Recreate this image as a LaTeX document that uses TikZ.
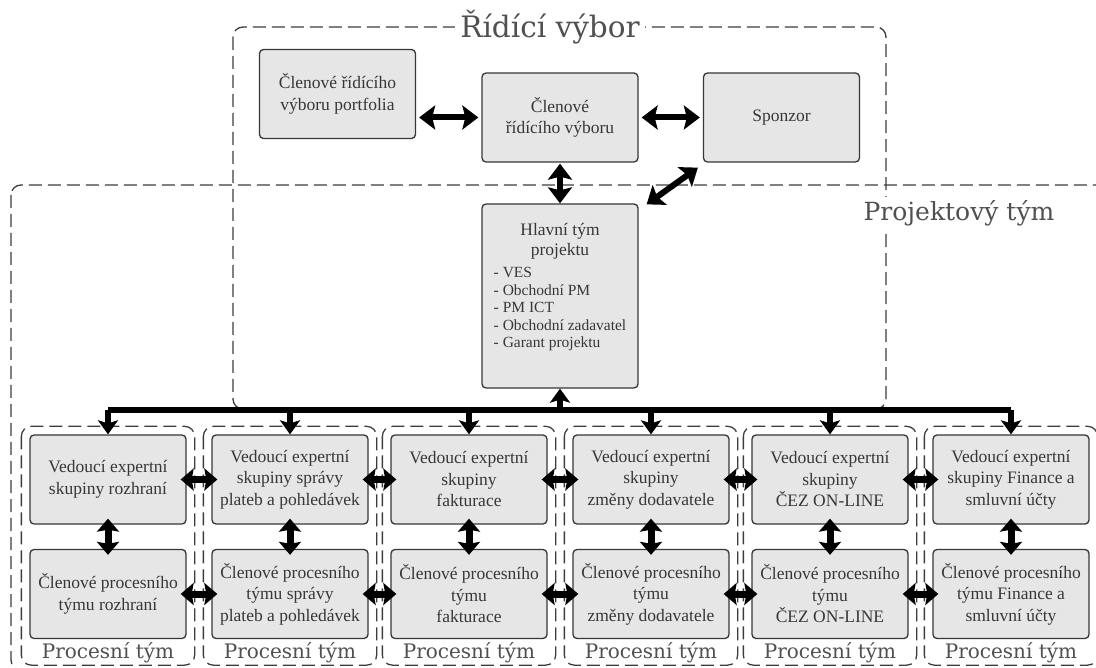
\documentclass[tikz,border=0pt]{standalone}
\usepackage{fontspec}
\setmainfont{Liberation Serif}
\newfontfamily\headfont{DejaVu Serif}
\usetikzlibrary{arrows.meta}
\definecolor{boxfill}{RGB}{230,230,230}
\definecolor{boxline}{RGB}{55,55,55}
\definecolor{boxtext}{RGB}{55,55,55}
\definecolor{dashline}{RGB}{60,60,60}
\definecolor{titlecol}{RGB}{80,80,80}
\tikzset{
  box/.style={draw=boxline, fill=boxfill, line width=1.3pt, rounded corners=4pt,
    minimum width=156pt, minimum height=89pt, align=center, text=boxtext,
    font=\fontsize{17.5}{21.5}\selectfont, inner sep=2pt},
  group/.style={draw=dashline, line width=1.3pt, dash pattern=on 13pt off 6pt, rounded corners=10pt},
  bigarrow/.style={line width=6pt, shorten <=3pt, shorten >=3pt,
    {Stealth[length=16pt,width=24pt,inset=3pt]}-{Stealth[length=16pt,width=24pt,inset=3pt]}},
  smallarrow/.style={line width=7pt, shorten <=-6pt, shorten >=-6pt,
    {Stealth[length=13pt,width=22pt,inset=2pt]}-{Stealth[length=13pt,width=22pt,inset=2pt]}},
  busarrow/.style={line width=6pt, -{Stealth[length=14pt,width=20pt,inset=3pt]}},
  grouplabel/.style={text=titlecol, font=\headfont\fontsize{20}{24}\selectfont, inner sep=1pt},
  headlabel/.style={text=titlecol, font=\headfont\fontsize{29.5}{34}\selectfont, fill=white, inner sep=5pt}
}
\begin{document}
\begin{tikzpicture}[x=1pt, y=-1pt]
\clip (0,0) rectangle (1096,668);
\fill[white] (0,0) rectangle (1096,668);
\draw[group] (11,185) rectangle (1130,670);
\draw[group] (233,27) rectangle (886,409);
\node[headlabel] (ridici) at (550,27) {Řídící výbor};
\node[headlabel, inner sep=3pt, font=\headfont\fontsize{25}{30}\selectfont] (projekt) at (959,213) {Projektový tým};

\node[box] (portfolio) at (337.5,94) {Členové řídícího\\výboru portfolia};
\node[box] (clenove) at (560,117.5) {Členové\\řídícího výboru};
\node[box] (sponzor) at (781.5,117.5) {Sponzor};
\node[box, minimum height=184pt] (hlavni) at (560,296) {};
\node[anchor=north, align=center, text=boxtext, font=\fontsize{17.5}{20.5}\selectfont] (hlavnitxt)
  at ([yshift=-16pt]hlavni.north) {Hlavní tým\\projektu\\[5pt]{\fontsize{15.5}{17.5}\selectfont
  \begin{tabular}{@{}l@{}}- VES\\- Obchodní PM\\- PM ICT\\- Obchodní zadavatel\\- Garant projektu\end{tabular}}};

\node[box] (ved1) at (108,479.5) {Vedoucí expertní\\skupiny rozhraní};
\node[box] (ved2) at (290,479.5) {Vedoucí expertní\\skupiny správy\\plateb a pohledávek};
\node[box] (ved3) at (469,479.5) {Vedoucí expertní\\skupiny\\fakturace};
\node[box] (ved4) at (651,479.5) {Vedoucí expertní\\skupiny\\změny dodavatele};
\node[box] (ved5) at (830,479.5) {Vedoucí expertní\\skupiny\\ČEZ ON-LINE};
\node[box] (ved6) at (1011,479.5) {Vedoucí expertní\\skupiny Finance a\\smluvní účty};

\node[box] (cle1) at (108,594) {Členové procesního\\týmu rozhraní};
\node[box] (cle2) at (290,594) {Členové procesního\\týmu správy\\plateb a pohledávek};
\node[box] (cle3) at (469,594) {Členové procesního\\týmu\\fakturace};
\node[box] (cle4) at (651,594) {Členové procesního\\týmu\\změny dodavatele};
\node[box] (cle5) at (830,594) {Členové procesního\\týmu\\ČEZ ON-LINE};
\node[box] (cle6) at (1011,594) {Členové procesního\\týmu Finance a\\smluvní účty};

\draw[group] ([xshift=-8pt,yshift=8pt]ved1.north west) rectangle ([xshift=8pt,yshift=-26pt]cle1.south east);
\draw[group] ([xshift=-8pt,yshift=8pt]ved2.north west) rectangle ([xshift=8pt,yshift=-26pt]cle2.south east);
\draw[group] ([xshift=-8pt,yshift=8pt]ved3.north west) rectangle ([xshift=8pt,yshift=-26pt]cle3.south east);
\draw[group] ([xshift=-8pt,yshift=8pt]ved4.north west) rectangle ([xshift=8pt,yshift=-26pt]cle4.south east);
\draw[group] ([xshift=-8pt,yshift=8pt]ved5.north west) rectangle ([xshift=8pt,yshift=-26pt]cle5.south east);
\draw[group] ([xshift=-8pt,yshift=8pt]ved6.north west) rectangle ([xshift=8pt,yshift=-26pt]cle6.south east);

\node[grouplabel] (proces1) at ([yshift=-14pt]cle1.south) {Procesní tým};
\node[grouplabel] (proces2) at ([yshift=-14pt]cle2.south) {Procesní tým};
\node[grouplabel] (proces3) at ([yshift=-14pt]cle3.south) {Procesní tým};
\node[grouplabel] (proces4) at ([yshift=-14pt]cle4.south) {Procesní tým};
\node[grouplabel] (proces5) at ([yshift=-14pt]cle5.south) {Procesní tým};
\node[grouplabel] (proces6) at ([yshift=-14pt]cle6.south) {Procesní tým};

\draw[bigarrow] (clenove.west -| portfolio.east) -- (clenove.west);
\draw[bigarrow] (clenove.east) -- (sponzor.west);
\draw[bigarrow, shorten <=1pt, shorten >=0pt] (clenove.south) -- (hlavni.north);
\draw[bigarrow, shorten <=0pt, shorten >=0pt] ([xshift=8pt,yshift=-1pt]hlavni.north east) -- ([xshift=-5pt,yshift=-5pt]sponzor.south west);

\coordinate (bus) at (560,410);
\draw[line width=5.5pt] (ved1.north |- bus) -- (ved6.north |- bus);
\draw[busarrow] (bus) -- (hlavni.south);
\draw[busarrow] (ved1.north |- bus) -- (ved1.north);
\draw[busarrow] (ved2.north |- bus) -- (ved2.north);
\draw[busarrow] (ved3.north |- bus) -- (ved3.north);
\draw[busarrow] (ved4.north |- bus) -- (ved4.north);
\draw[busarrow] (ved5.north |- bus) -- (ved5.north);
\draw[busarrow] (ved6.north |- bus) -- (ved6.north);

\draw[smallarrow] (ved1.south) -- (cle1.north);
\draw[smallarrow] (ved2.south) -- (cle2.north);
\draw[smallarrow] (ved3.south) -- (cle3.north);
\draw[smallarrow] (ved4.south) -- (cle4.north);
\draw[smallarrow] (ved5.south) -- (cle5.north);
\draw[smallarrow] (ved6.south) -- (cle6.north);

\draw[smallarrow] (ved1.east) -- (ved2.west);
\draw[smallarrow] (ved2.east) -- (ved3.west);
\draw[smallarrow] (ved3.east) -- (ved4.west);
\draw[smallarrow] (ved4.east) -- (ved5.west);
\draw[smallarrow] (ved5.east) -- (ved6.west);
\draw[smallarrow] (cle1.east) -- (cle2.west);
\draw[smallarrow] (cle2.east) -- (cle3.west);
\draw[smallarrow] (cle3.east) -- (cle4.west);
\draw[smallarrow] (cle4.east) -- (cle5.west);
\draw[smallarrow] (cle5.east) -- (cle6.west);
\end{tikzpicture}
\end{document}
